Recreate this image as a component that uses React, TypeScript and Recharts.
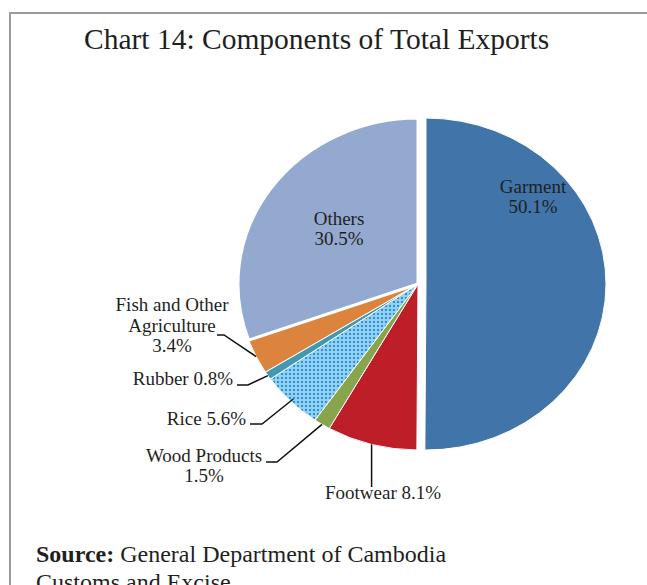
import { Cell, Pie, PieChart, Tooltip } from "recharts"

const categories = ["Garment", "Footwear", "Wood Products", "Rice", "Rubber", "Fish and Other Agriculture", "Others"]
const shares = [50.1, 8.1, 1.5, 5.6, 0.8, 3.4, 30.5]
const sliceColors = ["#4174a9", "#be1e27", "#88a54e", "url(#ricePattern)", "#4398b1", "#dc843d", "#93a9cf"]

// pie is drawn a little wider than tall, like the original
const CX = 418
const CY = 284
const RADIUS = 180
const Y_SCALE = 166 / 180
const EXPLODE = 8

const FONT = '"Liberation Serif", "Times New Roman", serif'
const TEXT_COLOR = "#1f1f1f"

// label placement, relative to the pie centre
type LabelLayout = {
  lines: (v: string) => string[]
  x: number
  y: number
  lineGap?: number
  anchor: "middle" | "end"
  leader?: number[]
  vertical?: number
  reach?: number
}

const LABEL_LAYOUT: LabelLayout[] = [
  { lines: (v) => ["Garment", v], x: 115, y: -91, anchor: "middle" },
  { lines: (v) => ["Footwear " + v], x: -35, y: 215, anchor: "middle", vertical: 203 },
  { lines: (v) => ["Wood Products", v], x: -214, y: 178, anchor: "middle", leader: [-152, 178, -141, 178] },
  { lines: (v) => ["Rice " + v], x: -172, y: 141, anchor: "end", leader: [-168, 140, -156, 140], reach: 0.98 },
  { lines: (v) => ["Rubber " + v], x: -185, y: 101, anchor: "end", leader: [-181, 101, -170, 101] },
  { lines: (v) => ["Fish and Other", "Agriculture", v], x: -246, y: 27, lineGap: 20.5, anchor: "middle", leader: [-201, 51, -194, 51] },
  { lines: (v) => ["Others", v], x: -79, y: -59, anchor: "middle" },
]

const data = categories.map((name, i) => ({ name, value: shares[i] }))

const RAD = Math.PI / 180

function EllipseSector(props: any) {
  const { cx, cy, outerRadius, startAngle, endAngle, midAngle, fill, stroke, strokeWidth, name } = props
  const off = name === "Garment" ? EXPLODE : 0
  const ox = cx + off * Math.cos(-midAngle * RAD)
  const oy = cy + off * Math.sin(-midAngle * RAD)
  const rx = outerRadius
  const ry = outerRadius * Y_SCALE
  const x1 = ox + rx * Math.cos(-startAngle * RAD)
  const y1 = oy + ry * Math.sin(-startAngle * RAD)
  const x2 = ox + rx * Math.cos(-endAngle * RAD)
  const y2 = oy + ry * Math.sin(-endAngle * RAD)
  const large = Math.abs(startAngle - endAngle) > 180 ? 1 : 0
  const sweep = startAngle > endAngle ? 1 : 0
  const d = `M${ox},${oy} L${x1},${y1} A${rx},${ry} 0 ${large} ${sweep} ${x2},${y2} Z`
  return <path d={d} fill={fill} stroke={stroke} strokeWidth={strokeWidth} strokeLinejoin="miter" />
}

function SliceLabel(props: any) {
  const { cx, cy, midAngle, outerRadius, index } = props
  const layout = LABEL_LAYOUT[index]
  if (!layout) return null
  const lines = layout.lines(shares[index].toFixed(1) + "%")
  const gap = layout.lineGap ?? 20
  const reach = (layout.reach ?? 1) * outerRadius
  const ax = cx + reach * Math.cos(-midAngle * RAD)
  const ay = cy + reach * Y_SCALE * Math.sin(-midAngle * RAD)

  let leader = null
  if (layout.leader) {
    const [a, b, c, e] = layout.leader
    leader = (
      <polyline
        points={`${cx + a},${cy + b} ${cx + c},${cy + e} ${ax},${ay}`}
        fill="none"
        stroke="#111"
        strokeWidth={1.5}
      />
    )
  } else if (layout.vertical !== undefined) {
    leader = <line x1={ax} y1={ay} x2={ax} y2={cy + layout.vertical} stroke="#111" strokeWidth={1.5} />
  }

  return (
    <g>
      {leader}
      <text
        x={cx + layout.x}
        y={cy + layout.y}
        textAnchor={layout.anchor}
        fontFamily={FONT}
        fontSize={19}
        fill={TEXT_COLOR}
      >
        {lines.map((t, i) => (
          <tspan key={i} x={cx + layout.x} y={cy + layout.y + i * gap}>
            {t}
          </tspan>
        ))}
      </text>
    </g>
  )
}

export default function App() {
  return (
    <div
      style={{
        position: "absolute",
        left: 0,
        top: 0,
        width: 647,
        height: 585,
        overflow: "hidden",
        background: "#fff",
        fontFamily: FONT,
        color: TEXT_COLOR,
      }}
    >
      <div
        style={{
          position: "absolute",
          left: 9,
          top: 12,
          width: 800,
          height: 800,
          borderLeft: "2px solid #9a9a9a",
          borderTop: "2px solid #9a9a9a",
        }}
      />
      <div style={{ position: "absolute", left: 84, top: 25, fontSize: 29.5, lineHeight: "29px", whiteSpace: "nowrap" }}>
        Chart 14: Components of Total Exports
      </div>

      <div style={{ position: "absolute", left: 0, top: 0 }}>
        <PieChart width={647} height={585} margin={{ top: 0, right: 0, bottom: 0, left: 0 }}>
          <defs>
            <pattern id="ricePattern" width={4} height={4} patternUnits="userSpaceOnUse">
              <rect width={4} height={4} fill="#94cff1" />
              <rect x={1} y={1} width={2} height={2} fill="#2893d6" />
            </pattern>
          </defs>
          <Tooltip defaultIndex={0} content={() => null} />
          <Pie
            data={data}
            dataKey="value"
            nameKey="name"
            cx={CX}
            cy={CY}
            outerRadius={RADIUS}
            startAngle={90}
            endAngle={-270}
            stroke="#fff"
            strokeWidth={1}
            shape={EllipseSector}
            activeShape={EllipseSector}
            inactiveShape={EllipseSector}
            label={SliceLabel}
            labelLine={false}
            isAnimationActive={false}
          >
            {data.map((d, i) => (
              <Cell key={d.name} fill={sliceColors[i]} strokeWidth={d.name === "Others" ? 3 : 1} />
            ))}
          </Pie>
        </PieChart>
      </div>

      <div style={{ position: "absolute", left: 36, top: 540, fontSize: 24, lineHeight: "28px", whiteSpace: "nowrap" }}>
        <b>Source:</b> General Department of Cambodia
        <br />
        Customs and Excise
      </div>
    </div>
  )
}
